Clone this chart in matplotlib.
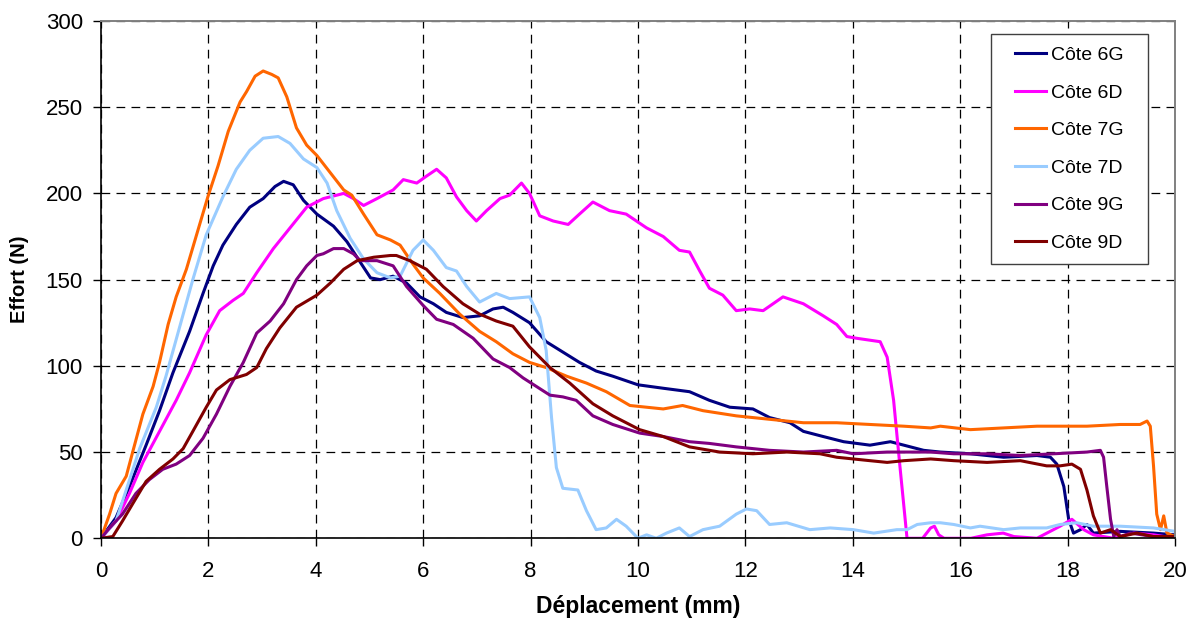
import matplotlib.pyplot as plt
import numpy as np
from matplotlib.path import Path

plt.rcParams['font.family'] = ['Liberation Sans', 'DejaVu Sans']

# Côte 6G
x_6g = [0, 0.28, 0.53, 0.84, 1.09, 1.34, 1.65, 1.90, 2.09, 2.27, 2.52, 2.77, 3.02, 3.24, 3.40,
        3.58, 3.77, 4.02, 4.33, 4.58, 4.83, 5.02, 5.20, 5.44, 5.69, 5.94, 6.19, 6.43, 6.74,
        7.05, 7.30, 7.49, 7.67, 7.98, 8.29, 8.60, 8.91, 9.22, 9.53, 10.0, 10.47, 10.96,
        11.33, 11.71, 12.14, 12.45, 12.83, 13.08, 13.45, 13.83, 14.32, 14.70, 14.95, 15.32,
        15.63, 16.19, 16.81, 17.43, 17.68, 17.80, 17.93, 18.02, 18.11, 18.24, 18.36, 18.48,
        18.98, 19.60, 20.0]
y_6g = [0, 12, 30, 54, 74, 96, 120, 142, 158, 170, 182, 192, 197, 204, 207,
        205, 196, 188, 181, 172, 160, 151, 150, 152, 148, 140, 136, 131, 128,
        129, 133, 134, 131, 125, 114, 108, 102, 97, 94, 89, 87, 85,
        80, 76, 75, 70, 67, 62, 59, 56, 54, 56, 54, 51,
        50, 49, 47, 48, 47, 43, 30, 11, 3, 5, 8, 3,
        4, 3, 2]

# Côte 6D
x_6d = [0, 0.28, 0.53, 0.78, 1.09, 1.40, 1.65, 1.96, 2.21, 2.46, 2.65, 2.90, 3.21, 3.52, 3.83,
        4.14, 4.52, 4.70, 4.89, 5.14, 5.44, 5.63, 5.88, 6.06, 6.25, 6.43, 6.62, 6.81, 6.99,
        7.18, 7.43, 7.61, 7.83, 7.98, 8.17, 8.42, 8.70, 8.91, 9.16, 9.47, 9.78, 10.16, 10.47,
        10.77, 10.96, 11.15, 11.33, 11.58, 11.83, 12.08, 12.33, 12.70, 13.08, 13.45, 13.70,
        13.89, 14.07, 14.51, 14.64, 14.76, 14.88, 15.01, 15.30, 15.45, 15.52, 15.60, 15.70,
        16.2, 16.5, 16.8, 17.0, 17.43, 17.86, 18.08, 18.30, 18.48, 18.86, 19.23, 19.60, 20.0]
y_6d = [0, 10, 26, 44, 62, 80, 96, 118, 132, 138, 142, 154, 168, 180, 192,
        197, 200, 197, 193, 197, 202, 208, 206, 210, 214, 209, 198, 190, 184,
        190, 197, 199, 206, 200, 187, 184, 182, 188, 195, 190, 188, 180, 175,
        167, 166, 155, 145, 141, 132, 133, 132, 140, 136, 129, 124,
        117, 116, 114, 105, 80, 41, 0, 0, 6, 7, 2, 0,
        0, 2, 3, 1, 0, 7, 11, 5, 2, 0, 3, 2, 0]

# Côte 7G
x_7g = [0, 0.16, 0.28, 0.47, 0.59, 0.78, 0.97, 1.09, 1.25, 1.40, 1.59, 1.78, 1.99, 2.18, 2.37,
        2.59, 2.71, 2.87, 3.02, 3.18, 3.30, 3.46, 3.64, 3.83, 4.02, 4.27, 4.52, 4.67, 4.89,
        5.14, 5.39, 5.57, 5.81, 6.0, 6.31, 6.68, 7.05, 7.36, 7.67, 7.98, 8.29, 8.67, 9.04,
        9.41, 9.85, 10.16, 10.47, 10.83, 11.21, 11.83, 12.45, 13.08, 13.70, 14.32, 14.95,
        15.45, 15.63, 16.19, 16.81, 17.43, 17.74, 18.36, 18.98, 19.35, 19.48, 19.54, 19.60,
        19.66, 19.73, 19.79, 19.85, 20.0]
y_7g = [0, 14, 26, 36, 50, 72, 88, 102, 124, 140, 156, 176, 198, 216, 236,
        253, 259, 268, 271, 269, 267, 256, 238, 228, 222, 212, 202, 199, 188,
        176, 173, 170, 159, 151, 142, 130, 120, 114, 107, 102, 99, 94, 90,
        85, 77, 76, 75, 77, 74, 71, 69, 67, 67, 66, 65,
        64, 65, 63, 64, 65, 65, 65, 66, 66, 68, 65, 42,
        14, 5, 13, 3, 1]

# Côte 7D
x_7d = [0, 0.28, 0.47, 0.72, 1.03, 1.21, 1.46, 1.71, 1.96, 2.27, 2.52, 2.77, 3.02, 3.30, 3.52,
        3.77, 4.02, 4.21, 4.39, 4.64, 4.89, 5.14, 5.39, 5.57, 5.81, 6.0, 6.19, 6.43, 6.62,
        6.81, 7.05, 7.36, 7.61, 7.98, 8.17, 8.29, 8.39, 8.48, 8.60, 8.88, 9.04, 9.22, 9.41,
        9.60, 9.78, 10.0, 10.16, 10.34, 10.53, 10.77, 10.96, 11.21, 11.52, 11.83, 12.02,
        12.21, 12.45, 12.77, 13.20, 13.58, 14.01, 14.39, 14.82, 15.01, 15.20, 15.45, 15.63,
        15.88, 16.19, 16.37, 16.81, 17.12, 17.61, 17.86, 18.17, 18.48, 18.98, 19.60, 20.0]
y_7d = [0, 10, 28, 52, 76, 94, 122, 150, 176, 198, 214, 225, 232, 233, 229,
        220, 215, 206, 190, 174, 162, 154, 151, 152, 167, 173, 167, 157, 155,
        146, 137, 142, 139, 140, 128, 109, 70, 41, 29, 28, 16, 5, 6,
        11, 7, 0, 2, 0, 3, 6, 1, 5, 7, 14, 17,
        16, 8, 9, 5, 6, 5, 3, 5, 5, 8, 9, 9,
        8, 6, 7, 5, 6, 6, 8, 9, 7, 7, 6, 4]

# Côte 9G
x_9g = [0, 0.16, 0.40, 0.65, 0.90, 1.15, 1.40, 1.65, 1.90, 2.15, 2.40, 2.65, 2.90, 3.15, 3.40,
        3.64, 3.83, 4.02, 4.14, 4.33, 4.52, 4.70, 4.83, 5.14, 5.44, 5.69, 6.0, 6.25, 6.56,
        6.93, 7.30, 7.61, 7.86, 8.11, 8.36, 8.60, 8.85, 9.16, 9.53, 10.03, 10.47, 10.96,
        11.33, 11.83, 12.45, 13.08, 13.70, 14.01, 14.64, 15.45, 15.88, 16.50, 17.12, 17.74,
        18.36, 18.61, 18.67, 18.73, 18.80, 18.86, 18.92, 18.98, 19.17, 19.60, 20.0]
y_9g = [0, 6, 14, 26, 34, 40, 43, 48, 58, 72, 88, 102, 119, 126, 136,
        150, 158, 164, 165, 168, 168, 165, 161, 161, 158, 146, 135, 127, 124,
        116, 104, 99, 93, 88, 83, 82, 80, 71, 66, 61, 59, 56,
        55, 53, 51, 50, 51, 49, 50, 50, 49, 49, 48, 49,
        50, 51, 47, 30, 11, 1, 5, 1, 3, 1, 1]

# Côte 9D
x_9d = [0, 0.22, 0.40, 0.59, 0.84, 1.09, 1.34, 1.53, 1.71, 1.96, 2.15, 2.40, 2.71, 2.90, 3.08,
        3.33, 3.64, 4.02, 4.27, 4.52, 4.77, 5.08, 5.39, 5.50, 5.75, 6.06, 6.37, 6.74, 7.05,
        7.36, 7.67, 7.98, 8.36, 8.73, 9.16, 9.53, 10.03, 10.47, 10.96, 11.52, 12.14, 12.77,
        13.39, 13.70, 14.32, 14.64, 14.95, 15.45, 15.88, 16.50, 17.12, 17.61, 17.86, 18.08,
        18.24, 18.36, 18.48, 18.61, 18.80, 18.98, 19.29, 19.60, 20.0]
y_9d = [0, 1, 10, 20, 33, 40, 46, 52, 62, 76, 86, 92, 95, 99, 110,
        122, 134, 141, 148, 156, 161, 163, 164, 164, 161, 156, 146, 136, 130,
        126, 123, 111, 99, 90, 78, 71, 63, 59, 53, 50, 49, 50,
        49, 47, 45, 44, 45, 46, 45, 44, 45, 42, 42, 43,
        40, 28, 13, 3, 5, 1, 3, 1, 1]

labels = ['Côte 6G', 'Côte 6D', 'Côte 7G', 'Côte 7D', 'Côte 9G', 'Côte 9D']
colors = ['#000080', '#FF00FF', '#FF6600', '#99CCFF', '#800080', '#800000']
series = [(x_6g, y_6g), (x_6d, y_6d), (x_7g, y_7g), (x_7d, y_7d), (x_9g, y_9g), (x_9d, y_9d)]

fig = plt.figure(figsize=(11.98, 6.30), dpi=100)
ax = fig.add_axes([0.0843, 0.1456, 0.8965, 0.8211])

for (xs, ys), lab, col in zip(series, labels, colors):
    ax.plot(xs, ys, color=col, lw=2.2, label=lab, solid_joinstyle='round')

ax.set_xlim(0, 20)
ax.set_ylim(0, 300)
ax.set_xticks(np.arange(0, 21, 2))
ax.set_yticks(np.arange(0, 301, 50))
ax.grid(True, color='black', linestyle=(0, (7, 5)), linewidth=0.9)
ax.set_axisbelow(True)

ax.tick_params(direction='out', length=5.5, width=1, labelsize=16, colors='black')
ax.tick_params(axis='x', pad=11)
ax.tick_params(axis='y', pad=7.5)
for side in ['left', 'bottom']:
    ax.spines[side].set_color('black')
    ax.spines[side].set_linewidth(1.2)
for side in ['top', 'right']:
    ax.spines[side].set_color('#808080')
    ax.spines[side].set_linewidth(1.4)

ax.set_xlabel('Déplacement (mm)', fontsize=16.5, fontweight='bold', labelpad=9)
ax.set_ylabel('Effort (N)', fontsize=14.5, fontweight='bold', labelpad=12)


# legend frame wider than the content on the sides (like the Excel box)
def wide_box(x0, y0, width, height, mutation_size):
    dx = 12
    return Path([(x0 - dx, y0), (x0 + width + dx, y0), (x0 + width + dx, y0 + height),
                 (x0 - dx, y0 + height), (x0 - dx, y0)], closed=True)


leg = ax.legend(loc='upper right', bbox_to_anchor=(0.9634, 0.9743), fontsize=14,
                frameon=True, fancybox=False, framealpha=1, edgecolor='#404040',
                handlelength=1.6, handletextpad=0.25, labelspacing=1.03,
                borderpad=0.62, borderaxespad=0)
leg.get_frame().set_linewidth(1.0)
leg.legendPatch.set_boxstyle(wide_box)

fig.savefig('out.png', dpi=100)
